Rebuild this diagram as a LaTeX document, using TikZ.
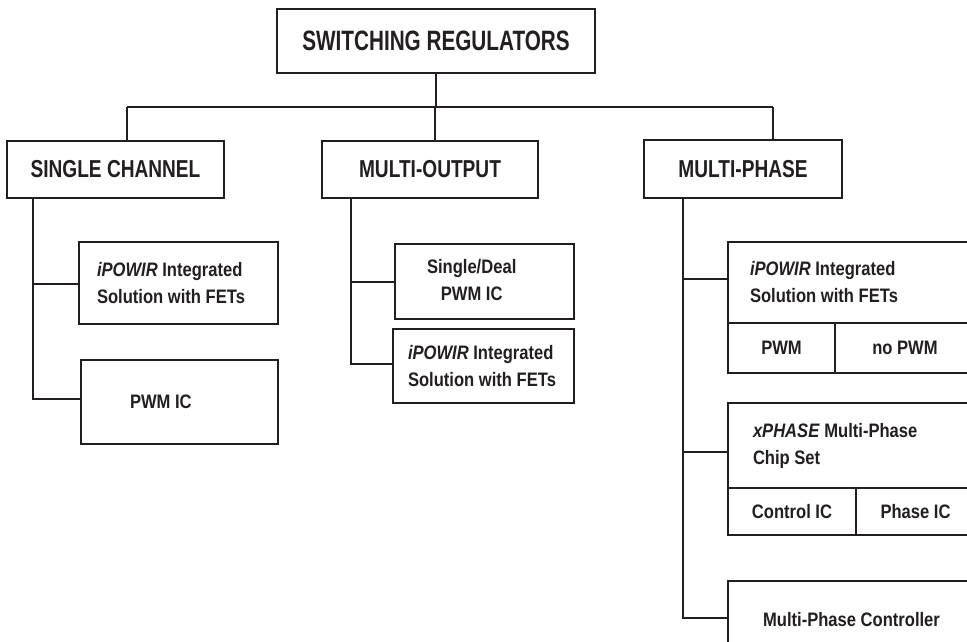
\documentclass[tikz,border=0pt]{standalone}
\usepackage{fontspec}
\setmainfont{Liberation Sans}
\newfontfamily\titlef{Liberation Sans}[FakeStretch=0.74]
\newfontfamily\headf{Liberation Sans}[FakeStretch=0.78]
\newfontfamily\smallf{Liberation Sans}[FakeStretch=0.85]
\usetikzlibrary{calc}
\definecolor{ink}{RGB}{35,31,32}
\begin{document}
\begin{tikzpicture}[x=1pt,y=-1pt,
  line join=miter,
  box/.style={draw=ink, line width=2pt, inner sep=0pt, text=ink},
  titletext/.style={font=\titlef\bfseries\fontsize{28}{34}\selectfont},
  headtext/.style={font=\headf\bfseries\fontsize{24.5}{29}\selectfont},
  smalltext/.style={font=\smallf\bfseries\fontsize{19.5}{27}\selectfont},
  conn/.style={draw=ink, line width=2pt}]
\clip (0,0) rectangle (967,642);
\fill[white] (0,0) rectangle (967,642);

% top
\node[box, titletext, minimum width=318pt, minimum height=64pt] (top) at (436,41) {SWITCHING REGULATORS};

% headers
\node[box, headtext, minimum width=217pt, minimum height=57pt] (sc) at (115.5,169.5) {SINGLE CHANNEL};
\node[box, headtext, minimum width=216pt, minimum height=57pt] (mo) at (430,169.5) {MULTI-OUTPUT};
\node[box, headtext, minimum width=198pt, minimum height=58pt] (mp) at (743,169) {MULTI-PHASE};

% single channel children
\node[box, smalltext, minimum width=199pt, minimum height=82pt, inner xsep=18pt, text width=163pt, align=flush left] (b1) at (178.5,283) {\textit{iPOWIR} Integrated\\Solution with FETs};
\node[box, smalltext, minimum width=197pt, minimum height=84pt, inner xsep=49pt, text width=99pt, align=flush left] (b2) at (179.5,402) {PWM IC};

% multi-output children
\node[box, smalltext, minimum width=179pt, minimum height=75pt, inner xsep=32pt, text width=115pt, align=flush left] (m1) at (484.5,281.5) {\begin{tabular}{@{}c@{}}Single/Deal\\PWM IC\end{tabular}};
\node[box, smalltext, minimum width=181pt, minimum height=74pt, inner xsep=15pt, text width=151pt, align=flush left] (m2) at (483.5,366) {\textit{iPOWIR} Integrated\\Solution with FETs};

% multi-phase children
\node[box, smalltext, minimum width=247pt, minimum height=81pt, inner xsep=22pt, text width=203pt, align=flush left] (r1) at (851.5,282.5) {\textit{iPOWIR} Integrated\\Solution with FETs};
\node[box, smalltext, minimum width=107pt, minimum height=50pt] (r1a) at (781.5,348) {PWM};
\node[box, smalltext, minimum width=140pt, minimum height=50pt] (r1b) at (905,348) {no PWM};

\node[box, smalltext, minimum width=247pt, minimum height=85pt, inner xsep=25pt, text width=197pt, align=flush left] (r2) at (851.5,445.5) {\textit{xPHASE} Multi-Phase\\Chip Set};
\node[box, smalltext, minimum width=128pt, minimum height=47pt] (r2a) at (792,511.5) {Control IC};
\node[box, smalltext, minimum width=119pt, minimum height=47pt] (r2b) at (915.5,511.5) {Phase IC};

\node[box, smalltext, minimum width=247pt, minimum height=79pt] (r3) at (851.5,620.5) {\raisebox{3pt}{Multi-Phase Controller}};

% bus and trunks
\coordinate (bus1) at (127,107);
\coordinate (bus2) at (435,107);
\coordinate (bus3) at (773,107);
\coordinate (t1) at (33,199);
\coordinate (t2) at (351,199);
\coordinate (t3) at (683,199);

\draw[conn] (top.south) -- (top.south |- bus2);
\draw[conn] (bus1) -- (bus3);
\draw[conn] (bus1) -- (bus1 |- sc.north);
\draw[conn] (bus2) -- (bus2 |- mo.north);
\draw[conn] (bus3) -- (bus3 |- mp.north);

\draw[conn] (t1 |- sc.south) |- (b1.west |- 0,284);
\draw[conn] (t1 |- sc.south) |- (b2.west |- 0,399);

\draw[conn] (t2 |- mo.south) |- (m1.west |- 0,282);
\draw[conn] (t2 |- mo.south) |- (m2.west |- 0,364);

\draw[conn] (t3 |- mp.south) |- (r1.west |- 0,279);
\draw[conn] (t3 |- mp.south) |- (r2.west |- 0,452);
\draw[conn] (t3 |- mp.south) |- (r3.west |- 0,618);
\end{tikzpicture}
\end{document}
